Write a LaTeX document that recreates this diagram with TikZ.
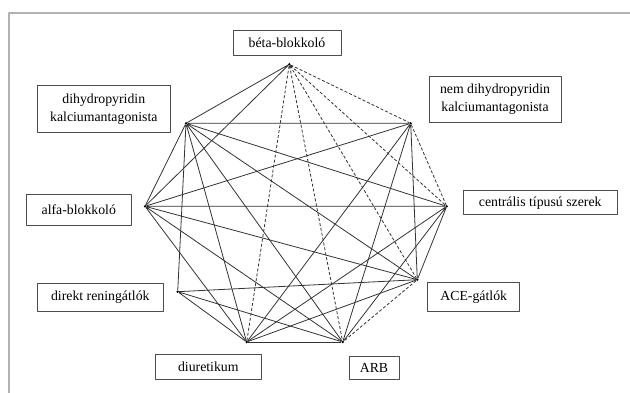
\documentclass[tikz,border=0pt]{standalone}
\usepackage{fontspec}
\setmainfont{Liberation Serif}
\tikzset{
  drug/.style={draw=black!70,line width=0.9pt,fill=white,inner sep=0pt,align=center,
    font=\fontsize{13.8}{18}\selectfont},
  dot/.style={circle,fill=black,inner sep=0pt,minimum size=2.6pt},
  combo/.style={draw=black!80,line width=0.8pt},
  weak/.style={draw=black!80,line width=0.8pt,dash pattern=on 3pt off 2pt}
}
\begin{document}
\begin{tikzpicture}[x=1pt,y=-1pt,line join=round]
  \useasboundingbox (0,0) rectangle (630,393);
  % frame of the screenshot
  \draw[black!30,line width=2pt] (9,393)--(9,12.7)--(630,12.7);

  % labels
  \node[drug,minimum width=108pt,minimum height=24.6pt] (beta) at (287,43) {béta-blokkoló};
  \node[drug,minimum width=132.3pt,minimum height=47pt] (dhp) at (103.8,109.2) {dihydropyridin\\kalciumantagonista};
  \node[drug,minimum width=132pt,minimum height=46.3pt] (ndhp) at (495,99.2) {nem dihydropyridin\\kalciumantagonista};
  \node[drug,minimum width=104.3pt,minimum height=31pt] (alfa) at (78.8,209.8) {alfa-blokkoló};
  \node[drug,minimum width=153.7pt,minimum height=24pt] (centr) at (540.2,202.7) {centrális típusú szerek};
  \node[drug,minimum width=125.3pt,minimum height=28.3pt] (direkt) at (100.3,297.2) {direkt reningátlók};
  \node[drug,minimum width=92pt,minimum height=29.3pt] (ace) at (473.7,296.7) {ACE-gátlók};
  \node[drug,minimum width=106pt,minimum height=25.7pt] (diur) at (208.3,366.8) {diuretikum};
  \node[drug,minimum width=50pt,minimum height=23pt] (arb) at (374,368.2) {ARB};

  % corners of the polygon
  \node[dot] (b) at (289.3,64.3) {};
  \node[dot] (d) at (186,123.3) {};
  \node[dot] (n) at (410.7,123.3) {};
  \node[dot] (a) at (145,206.3) {};
  \node[dot] (c) at (446.7,206.3) {};
  \node[dot] (r) at (177.7,291.7) {};
  \node[dot] (e) at (417.3,279.7) {};
  \node[dot] (u) at (246.7,342) {};
  \node[dot] (s) at (342.7,342) {};

  % combinations
  \draw[combo] (b)--(d) (b)--(a);
  \draw[weak] (b)--(n) (b)--(c) (b)--(e) (b)--(s) (b)--(u);
  \draw[combo] (d)--(n) (d)--(a) (d)--(r) (d)--(u) (d)--(s) (d)--(e) (d)--(c);
  \draw[combo] (n)--(a) (n)--(u) (n)--(s) (n)--(e);
  \draw[weak] (n)--(c);
  \draw[combo] (a)--(c) (a)--(e) (a)--(s) (a)--(u);
  \draw[combo] (c)--(e) (c)--(s) (c)--(u);
  \draw[combo] (r)--(e) (r)--(u) (r)--(s);
  \draw[combo] (e)--(u);
  \draw[weak] (e)--(s);
  \draw[combo] (u)--(s);
\end{tikzpicture}
\end{document}
